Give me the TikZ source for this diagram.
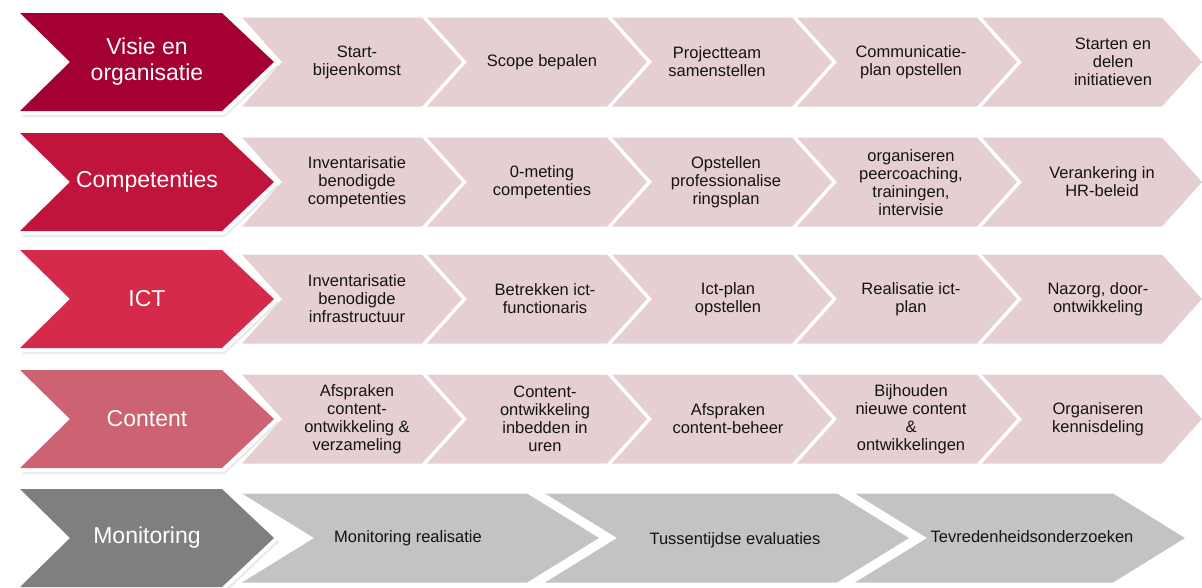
\documentclass[tikz,border=0pt]{standalone}
\usepackage{fontspec}
\setmainfont{Liberation Sans}
\definecolor{pinkc}{RGB}{230,207,211}
\definecolor{greyc}{RGB}{195,195,195}
\definecolor{visiec}{RGB}{164,0,50}
\definecolor{compc}{RGB}{192,20,60}
\definecolor{ictc}{RGB}{213,42,74}
\definecolor{contc}{RGB}{204,98,114}
\definecolor{monc}{RGB}{127,127,127}
\definecolor{txtc}{RGB}{20,20,20}
\newcommand\mysmallchev[5]{% tl x, cy, width, depth, colour
  \fill[#5] (#1,#2-44.5) -- (#1+#3,#2-44.5) -- (#1+#3+#4,#2) -- (#1+#3,#2+44.5) -- (#1,#2+44.5) -- (#1+#4,#2) -- cycle;}
\newcommand\mybigchev[2]{% cy, colour
  \fill[black,opacity=0.08] (22,#1-47) -- (225,#1-47) -- (279,#1+4) -- (225,#1+55) -- (22,#1+55) -- (74,#1+4) -- cycle;
  \fill[black,opacity=0.10] (21,#1-48) -- (223,#1-48) -- (277,#1+3) -- (223,#1+53) -- (21,#1+53) -- (72,#1+3) -- cycle;
  \draw[white,line width=8,line join=miter] (20,#1-49) -- (222,#1-49) -- (274,#1) -- (222,#1+49) -- (20,#1+49) -- (70,#1) -- cycle;
  \fill[#2] (20,#1-49) -- (222,#1-49) -- (274,#1) -- (222,#1+49) -- (20,#1+49) -- (70,#1) -- cycle;}
\tikzset{
  smalltxt/.style={align=center, font=\fontsize{16.5}{18}\selectfont, text=txtc, inner sep=0pt},
  bigtxt/.style={align=center, font=\fontsize{23}{26}\selectfont, text=white, inner sep=0pt}
}
\begin{document}
\begin{tikzpicture}[x=1pt,y=-1pt]
\useasboundingbox (0,0) rectangle (1202,587);
% pink step chevrons
\foreach \cy in {62,182,299,419}{
  \foreach \k in {0,...,4}{
    \pgfmathsetmacro\tl{242+185*\k}
    \mysmallchev{\tl}{\cy}{180}{40}{pinkc}
  }
}
% grey step chevrons
\mysmallchev{242}{538}{285}{72}{greyc}
\mysmallchev{545}{538}{292}{72}{greyc}
\mysmallchev{855}{538}{258}{72}{greyc}
% big chevrons
\mybigchev{62}{visiec}
\mybigchev{182}{compc}
\mybigchev{299}{ictc}
\mybigchev{419}{contc}
\mybigchev{538}{monc}
% big labels
\node[bigtxt] (visie) at (147,62) {Visie en\\organisatie};
\node[bigtxt] (comp) at (147,182) {Competenties};
\node[bigtxt] (ict) at (147,299) {ICT};
\node[bigtxt] (cont) at (147,419) {Content};
\node[bigtxt] (mon) at (147,538) {Monitoring};
% row 1
\node[smalltxt] (a1) at (357,62) {Start-\\bijeenkomst};
\node[smalltxt] (a2) at (542,62) {Scope bepalen};
\node[smalltxt] (a3) at (717,62) {Projectteam\\samenstellen};
\node[smalltxt] (a4) at (911,62) {Communicatie-\\plan opstellen};
\node[smalltxt] (a5) at (1113,62) {Starten en\\delen\\initiatieven};
% row 2
\node[smalltxt] (b1) at (357,182) {Inventarisatie\\benodigde\\competenties};
\node[smalltxt] (b2) at (542,182) {0-meting\\competenties};
\node[smalltxt] (b3) at (726,182) {Opstellen\\professionalise\\ringsplan};
\node[smalltxt] (b4) at (911,183) {organiseren\\peercoaching,\\trainingen,\\intervisie};
\node[smalltxt] (b5) at (1102,182) {Verankering in\\HR-beleid};
% row 3
\node[smalltxt] (c1) at (357,299) {Inventarisatie\\benodigde\\infrastructuur};
\node[smalltxt] (c2) at (545,299) {Betrekken ict-\\functionaris};
\node[smalltxt] (c3) at (728,299) {Ict-plan\\opstellen};
\node[smalltxt] (c4) at (911,299) {Realisatie ict-\\plan};
\node[smalltxt] (c5) at (1098,299) {Nazorg, door-\\ontwikkeling};
% row 4
\node[smalltxt] (d1) at (357,419) {Afspraken\\content-\\ontwikkeling \&\\verzameling};
\node[smalltxt] (d2) at (545,419) {Content-\\ontwikkeling\\inbedden in\\uren};
\node[smalltxt] (d3) at (728,419) {Afspraken\\content-beheer};
\node[smalltxt] (d4) at (911,419) {Bijhouden\\nieuwe content\\\&\\ontwikkelingen};
\node[smalltxt] (d5) at (1098,419) {Organiseren\\kennisdeling};
% row 5
\node[smalltxt] (e1) at (408,538) {Monitoring realisatie};
\node[smalltxt] (e2) at (735,540) {Tussentijdse evaluaties};
\node[smalltxt] (e3) at (1032,537) {Tevredenheidsonderzoeken};
\end{tikzpicture}
\end{document}
